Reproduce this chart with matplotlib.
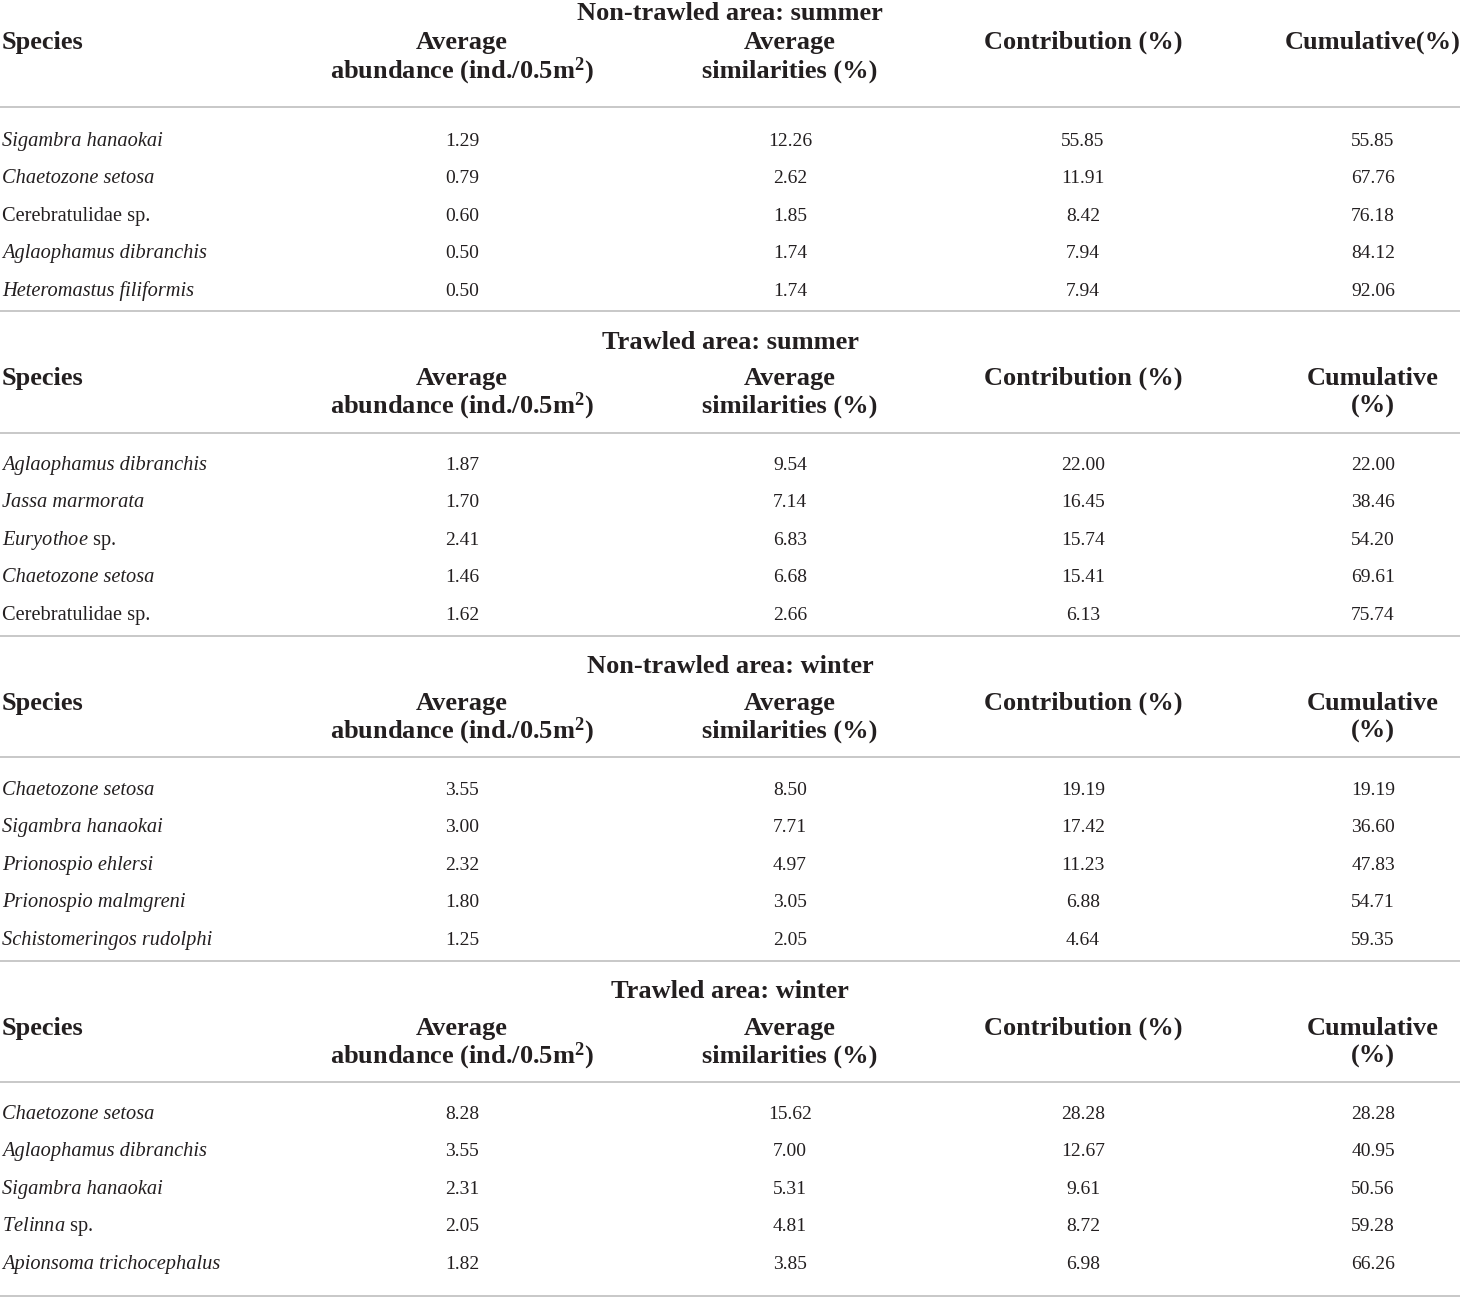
import matplotlib.pyplot as plt
from matplotlib.lines import Line2D

plt.rcParams['font.family'] = 'Liberation Serif'
plt.rcParams['mathtext.fontset'] = 'custom'
plt.rcParams['mathtext.rm'] = 'Liberation Serif'
plt.rcParams['mathtext.it'] = 'Liberation Serif:italic'
plt.rcParams['mathtext.bf'] = 'Liberation Serif:bold'

# table content
titles = ['Non-trawled area: summer', 'Trawled area: summer',
          'Non-trawled area: winter', 'Trawled area: winter']

species = [
    ['Sigambra hanaokai', 'Chaetozone setosa', 'Cerebratulidae sp.',
     'Aglaophamus dibranchis', 'Heteromastus filiformis'],
    ['Aglaophamus dibranchis', 'Jassa marmorata', 'Euryothoe sp.',
     'Chaetozone setosa', 'Cerebratulidae sp.'],
    ['Chaetozone setosa', 'Sigambra hanaokai', 'Prionospio ehlersi',
     'Prionospio malmgreni', 'Schistomeringos rudolphi'],
    ['Chaetozone setosa', 'Aglaophamus dibranchis', 'Sigambra hanaokai',
     'Telinna sp.', 'Apionsoma trichocephalus'],
]

abundance = [
    ['1.29', '0.79', '0.60', '0.50', '0.50'],
    ['1.87', '1.70', '2.41', '1.46', '1.62'],
    ['3.55', '3.00', '2.32', '1.80', '1.25'],
    ['8.28', '3.55', '2.31', '2.05', '1.82'],
]
similarity = [
    ['12.26', '2.62', '1.85', '1.74', '1.74'],
    ['9.54', '7.14', '6.83', '6.68', '2.66'],
    ['8.50', '7.71', '4.97', '3.05', '2.05'],
    ['15.62', '7.00', '5.31', '4.81', '3.85'],
]
contribution = [
    ['55.85', '11.91', '8.42', '7.94', '7.94'],
    ['22.00', '16.45', '15.74', '15.41', '6.13'],
    ['19.19', '17.42', '11.23', '6.88', '4.64'],
    ['28.28', '12.67', '9.61', '8.72', '6.98'],
]
cumulative = [
    ['55.85', '67.76', '76.18', '84.12', '92.06'],
    ['22.00', '38.46', '54.20', '69.61', '75.74'],
    ['19.19', '36.60', '47.83', '54.71', '59.35'],
    ['28.28', '40.95', '50.56', '59.28', '66.26'],
]

W, H = 1460, 1297
fig = plt.figure(figsize=(W / 100, H / 100), dpi=100)
ax = fig.add_axes([0, 0, 1, 1])
ax.set_xlim(0, W)
ax.set_ylim(H, 0)
ax.axis('off')

col_x = [462, 790, 1083, 1373]
# baselines per section: title, header line 1, header line 2, rule, first row, bottom rule
title_y = [20, 349, 673, 998]
head1_y = [49, 385, 710, 1035]
head2_y = [78, 413, 738, 1063]
rule_y = [107, 433, 757, 1082]
row0_y = [146, 470, 795, 1119]
bottom_y = [311, 636, 961, 1296]
row_step = 37.4

line_col = '#c4c4c4'
txt_col = '#231f20'
hfs = 19
nfs = 14
sfs = 14.7


def head(x, y, s, ha='center'):
    ax.text(x, y, s, ha=ha, va='baseline', fontsize=hfs,
            fontweight='bold', color=txt_col)


def species_label(name):
    # genus only italic when the name ends in "sp."
    if name == 'Cerebratulidae sp.':
        return name, 'normal'
    if name.endswith(' sp.'):
        return r'$\mathit{' + name[:-4] + r'}$ sp.', 'normal'
    return name, 'italic'


for s in range(4):
    head(730, title_y[s], titles[s])
    head(2, head1_y[s], 'Species', ha='left')
    head(col_x[0], head1_y[s], 'Average')
    head(col_x[0], head2_y[s], 'abundance (ind./0.5m$^{\\mathbf{2}}$)')
    head(col_x[1], head1_y[s], 'Average')
    head(col_x[1], head2_y[s], 'similarities (%)')
    head(col_x[2], head1_y[s], 'Contribution (%)')
    if s == 0:
        head(col_x[3], head1_y[s], 'Cumulative(%)')
    else:
        head(col_x[3], head1_y[s], 'Cumulative')
        head(col_x[3], head2_y[s], '(%)')
    ax.add_line(Line2D([0, W], [rule_y[s]] * 2, color=line_col, lw=1.3))

    for r in range(5):
        y = row0_y[s] + r * row_step
        lab, st = species_label(species[s][r])
        ax.text(2, y, lab, ha='left', va='baseline', fontsize=sfs,
                style=st, color=txt_col)
        for c, vals in enumerate([abundance, similarity, contribution, cumulative]):
            ax.text(col_x[c], y, vals[s][r], ha='center', va='baseline',
                    fontsize=nfs, color=txt_col)

    ax.add_line(Line2D([0, W], [bottom_y[s]] * 2, color=line_col, lw=1.3))

fig.savefig('out.png', dpi=100, facecolor='white')
